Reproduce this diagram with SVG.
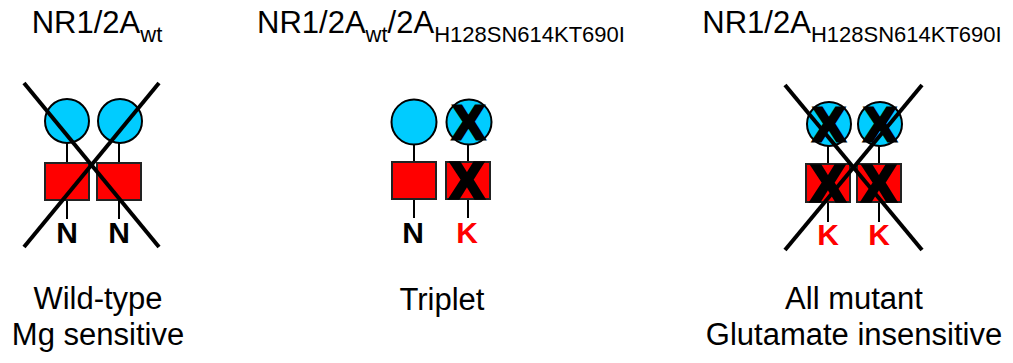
<svg xmlns="http://www.w3.org/2000/svg" width="1013" height="363" viewBox="0 0 1013 363">
<style>
  text { font-family: "Liberation Sans", Arial, sans-serif; }
  .title { font-size: 31px; fill: #000; text-anchor: middle; }
  .sub { font-size: 22px; }
  .cap { font-size: 31px; fill: #000; text-anchor: middle; }
  .lbl { font-size: 30px; font-weight: bold; text-anchor: middle; }
  .n { fill: #000; }
  .k { fill: #FF0000; }
  .head { fill: #00CCFF; stroke: #000; stroke-width: 2; }
  .body { fill: #FF0000; stroke: #222; stroke-width: 2; }
  .stem { stroke: #000; stroke-width: 2; fill: none; }
  .cross { stroke: #000; stroke-width: 4; stroke-linecap: butt; }
  .xc { font-size: 48px; font-weight: bold; fill: #000; stroke: #000; stroke-width: 3; text-anchor: middle; }
  .xs { font-size: 50px; font-weight: bold; fill: #000; stroke: #000; stroke-width: 3.5; text-anchor: middle; }
</style>
<rect width="1013" height="363" fill="#fff"/>

<!-- titles -->
<text class="title" x="97" y="33">NR1/2A<tspan class="sub" dy="9">wt</tspan></text>
<text class="title" x="441" y="33">NR1/2A<tspan class="sub" dy="9">wt</tspan><tspan dy="-9">/2A</tspan><tspan class="sub" dy="9">H128SN614KT690I</tspan></text>
<text class="title" x="852" y="33">NR1/2A<tspan class="sub" dy="9">H128SN614KT690I</tspan></text>

<!-- connectors (stems) -->
<g id="connectors">
  <line class="stem" x1="67" y1="143" x2="67" y2="163"/>
  <line class="stem" x1="67" y1="200" x2="67" y2="219"/>
  <line class="stem" x1="119" y1="143" x2="119" y2="163"/>
  <line class="stem" x1="119" y1="200" x2="119" y2="219"/>
  <line class="stem" x1="414" y1="144" x2="414" y2="162"/>
  <line class="stem" x1="414" y1="199" x2="414" y2="218"/>
  <line class="stem" x1="468" y1="144" x2="468" y2="162"/>
  <line class="stem" x1="468" y1="199" x2="468" y2="218"/>
  <line class="stem" x1="828" y1="146" x2="828" y2="164"/>
  <line class="stem" x1="828" y1="202" x2="828" y2="222"/>
  <line class="stem" x1="879" y1="146" x2="879" y2="164"/>
  <line class="stem" x1="879" y1="202" x2="879" y2="222"/>
</g>

<!-- wild-type -->
<g id="wt-sub1">
  <circle class="head" cx="67" cy="121" r="22"/>
  <rect class="body" x="45" y="163" width="44" height="37"/>
  <text class="lbl n" x="67" y="243">N</text>
</g>
<g id="wt-sub2">
  <circle class="head" cx="120" cy="121" r="22"/>
  <rect class="body" x="97" y="163" width="44" height="37"/>
  <text class="lbl n" x="119" y="243">N</text>
</g>

<!-- triplet -->
<g id="tr-sub1">
  <circle class="head" cx="414" cy="122" r="22.5"/>
  <rect class="body" x="392" y="162" width="44" height="37"/>
  <text class="lbl n" x="413" y="243">N</text>
</g>
<g id="tr-sub2">
  <circle class="head" cx="469" cy="122" r="22.5"/>
  <text class="xc" x="468.5" y="139">X</text>
  <rect class="body" x="446" y="162" width="44" height="37"/>
  <text class="xs" x="467" y="198">X</text>
  <text class="lbl k" x="467" y="243">K</text>
</g>

<!-- all mutant -->
<g id="mut-sub1">
  <circle class="head" cx="829" cy="124" r="22"/>
  <text class="xc" x="829" y="141">X</text>
  <rect class="body" x="806" y="164" width="44" height="38"/>
  <text class="xs" x="828" y="201">X</text>
  <text class="lbl k" x="828" y="245">K</text>
</g>
<g id="mut-sub2">
  <circle class="head" cx="880" cy="124" r="22"/>
  <text class="xc" x="880" y="141">X</text>
  <rect class="body" x="857" y="164" width="44" height="38"/>
  <text class="xs" x="879" y="201">X</text>
  <text class="lbl k" x="879" y="245">K</text>
</g>

<!-- big crosses -->
<g id="crosses">
  <line class="cross" x1="24" y1="83" x2="159" y2="247"/>
  <line class="cross" x1="159" y1="83" x2="24" y2="247"/>
  <line class="cross" x1="785" y1="85" x2="922" y2="250"/>
  <line class="cross" x1="922" y1="85" x2="785" y2="250"/>
</g>

<!-- captions -->
<text class="cap" x="98" y="309">Wild-type</text>
<text class="cap" x="98" y="345">Mg sensitive</text>
<text class="cap" x="442" y="310">Triplet</text>
<text class="cap" x="854" y="309">All mutant</text>
<text class="cap" x="854" y="345">Glutamate insensitive</text>
</svg>
